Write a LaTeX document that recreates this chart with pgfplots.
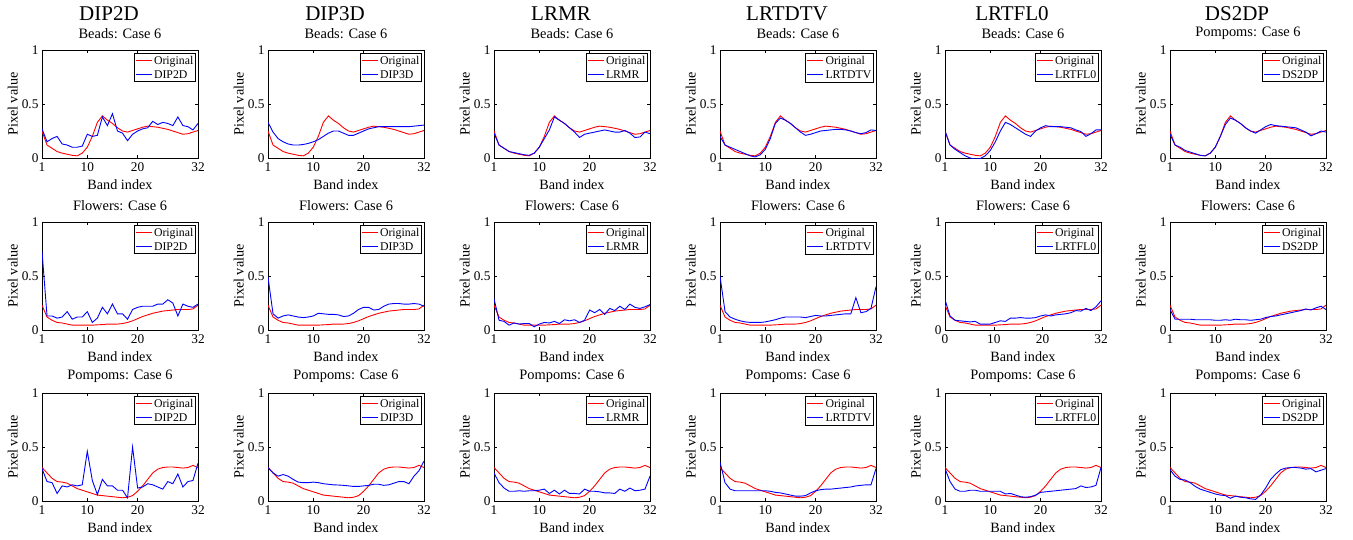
\documentclass[border=0pt]{standalone}
\usepackage{fontspec}
\setmainfont{Liberation Serif}
\usepackage{pgfplots}
\usepackage{pgfplotstable}
\pgfplotsset{compat=1.18}

\pgfplotstableread{
x orig dip2d dip3d lrmr lrtdtv lrtfl0 ds2dp
1 0.25 0.27 0.33 0.23 0.20 0.25 0.22
2 0.12 0.15 0.24 0.12 0.12 0.12 0.12
3 0.09 0.18 0.18 0.09 0.10 0.08 0.10
4 0.06 0.20 0.15 0.06 0.08 0.05 0.07
5 0.045 0.13 0.13 0.05 0.06 0.02 0.055
6 0.035 0.12 0.12 0.04 0.04 0.0 0.04
7 0.025 0.10 0.12 0.03 0.02 -0.01 0.025
8 0.02 0.10 0.125 0.025 0.01 -0.005 0.02
9 0.045 0.11 0.135 0.045 0.03 0.02 0.045
10 0.10 0.22 0.15 0.10 0.08 0.07 0.10
11 0.20 0.20 0.17 0.18 0.18 0.15 0.20
12 0.33 0.21 0.20 0.26 0.32 0.25 0.31
13 0.39 0.38 0.23 0.38 0.37 0.33 0.37
14 0.35 0.30 0.25 0.35 0.35 0.31 0.35
15 0.32 0.41 0.25 0.32 0.32 0.28 0.32
16 0.28 0.25 0.23 0.28 0.28 0.25 0.28
17 0.25 0.23 0.21 0.24 0.24 0.22 0.25
18 0.24 0.16 0.21 0.19 0.21 0.20 0.23
19 0.255 0.22 0.23 0.22 0.22 0.25 0.26
20 0.27 0.25 0.25 0.23 0.235 0.28 0.29
21 0.285 0.27 0.27 0.24 0.25 0.30 0.31
22 0.295 0.28 0.28 0.25 0.255 0.29 0.30
23 0.29 0.34 0.29 0.26 0.26 0.29 0.295
24 0.285 0.31 0.29 0.25 0.265 0.29 0.29
25 0.275 0.33 0.29 0.24 0.265 0.285 0.285
26 0.265 0.32 0.29 0.24 0.26 0.28 0.28
27 0.25 0.30 0.29 0.255 0.25 0.26 0.26
28 0.235 0.38 0.29 0.23 0.235 0.245 0.24
29 0.22 0.30 0.29 0.19 0.225 0.20 0.205
30 0.225 0.29 0.295 0.195 0.235 0.225 0.225
31 0.24 0.26 0.30 0.24 0.26 0.26 0.25
32 0.255 0.32 0.305 0.225 0.255 0.26 0.24
}\beads

\pgfplotstableread{
x xz orig dip2d dip3d lrmr lrtdtv lrtfl0 ds2dp
1 0 0.23 0.73 0.49 0.29 0.50 0.28 0.19
2 1.032 0.12 0.13 0.15 0.09 0.17 0.13 0.10
3 2.065 0.09 0.13 0.11 0.08 0.12 0.09 0.10
4 3.097 0.07 0.11 0.13 0.045 0.10 0.085 0.10
5 4.129 0.065 0.12 0.14 0.065 0.085 0.08 0.10
6 5.161 0.055 0.17 0.13 0.055 0.075 0.075 0.095
7 6.194 0.045 0.10 0.12 0.06 0.07 0.08 0.095
8 7.226 0.045 0.12 0.115 0.06 0.07 0.055 0.095
9 8.258 0.045 0.12 0.12 0.03 0.07 0.055 0.095
10 9.290 0.045 0.17 0.13 0.055 0.075 0.055 0.09
11 10.323 0.045 0.07 0.155 0.07 0.085 0.07 0.09
12 11.355 0.048 0.11 0.15 0.065 0.095 0.085 0.095
13 12.387 0.05 0.21 0.145 0.08 0.11 0.08 0.09
14 13.419 0.055 0.15 0.145 0.06 0.12 0.11 0.10
15 14.452 0.055 0.24 0.14 0.095 0.12 0.11 0.095
16 15.484 0.055 0.15 0.125 0.085 0.12 0.115 0.095
17 16.516 0.06 0.15 0.13 0.095 0.12 0.11 0.09
18 17.548 0.07 0.10 0.155 0.07 0.115 0.11 0.095
19 18.581 0.085 0.19 0.19 0.09 0.125 0.115 0.10
20 19.613 0.105 0.21 0.21 0.185 0.135 0.13 0.115
21 20.645 0.125 0.22 0.21 0.16 0.13 0.14 0.125
22 21.677 0.14 0.22 0.185 0.19 0.13 0.13 0.13
23 22.710 0.155 0.22 0.19 0.145 0.135 0.14 0.14
24 23.742 0.165 0.24 0.22 0.20 0.14 0.145 0.15
25 24.774 0.175 0.24 0.24 0.18 0.145 0.15 0.16
26 25.806 0.18 0.28 0.245 0.22 0.15 0.16 0.17
27 26.839 0.185 0.25 0.245 0.19 0.15 0.18 0.18
28 27.871 0.19 0.13 0.24 0.24 0.30 0.175 0.195
29 28.903 0.19 0.24 0.24 0.21 0.16 0.20 0.185
30 29.935 0.19 0.22 0.245 0.20 0.17 0.18 0.205
31 30.968 0.195 0.21 0.24 0.215 0.20 0.215 0.22
32 32 0.23 0.24 0.22 0.235 0.40 0.27 0.19
}\flowers

\pgfplotstableread{
x orig dip2d dip3d lrmr lrtdtv lrtfl0 ds2dp
1 0.31 0.30 0.31 0.26 0.36 0.30 0.29
2 0.26 0.18 0.26 0.17 0.17 0.18 0.23
3 0.21 0.17 0.23 0.12 0.11 0.11 0.20
4 0.18 0.07 0.245 0.09 0.095 0.09 0.195
5 0.175 0.14 0.23 0.09 0.095 0.09 0.17
6 0.165 0.13 0.20 0.095 0.095 0.10 0.135
7 0.14 0.15 0.175 0.09 0.095 0.10 0.11
8 0.115 0.14 0.17 0.095 0.095 0.09 0.095
9 0.10 0.15 0.17 0.095 0.095 0.09 0.08
10 0.085 0.46 0.175 0.10 0.095 0.09 0.065
11 0.07 0.19 0.17 0.11 0.09 0.09 0.055
12 0.055 0.06 0.16 0.07 0.08 0.09 0.05
13 0.05 0.20 0.155 0.10 0.075 0.065 0.025
14 0.045 0.14 0.15 0.065 0.065 0.07 0.045
15 0.04 0.14 0.148 0.10 0.055 0.055 0.035
16 0.035 0.10 0.145 0.07 0.045 0.04 0.03
17 0.03 0.10 0.14 0.07 0.045 0.035 0.02
18 0.035 0.03 0.135 0.065 0.05 0.04 0.015
19 0.05 0.50 0.135 0.11 0.075 0.055 0.055
20 0.09 0.12 0.14 0.09 0.095 0.08 0.12
21 0.14 0.13 0.145 0.09 0.105 0.085 0.20
22 0.20 0.16 0.155 0.085 0.11 0.09 0.25
23 0.26 0.15 0.155 0.075 0.11 0.095 0.29
24 0.295 0.13 0.145 0.075 0.115 0.10 0.305
25 0.31 0.11 0.15 0.07 0.12 0.105 0.31
26 0.315 0.18 0.165 0.11 0.125 0.11 0.31
27 0.315 0.16 0.18 0.09 0.13 0.115 0.305
28 0.31 0.25 0.18 0.12 0.14 0.14 0.295
29 0.305 0.13 0.16 0.095 0.145 0.125 0.30
30 0.31 0.18 0.23 0.10 0.15 0.13 0.27
31 0.33 0.19 0.28 0.11 0.15 0.145 0.285
32 0.31 0.35 0.37 0.23 0.30 0.31 0.30
}\pompoms

\pgfplotsset{
  pstyle/.style={
    scale only axis, width=156pt, height=108pt,
    xmin=1, xmax=32, ymin=0, ymax=1,
    xtick={1,10,20,32}, ytick={0,0.5,1},
    tick align=inside, xtick pos=both, ytick pos=both,
    major tick length=3pt,
    axis line style={line width=0.6pt},
    every tick/.style={line width=0.5pt},
    /pgf/number format/assume math mode=true,
    yticklabel style={/pgf/number format/fixed},
    tick label style={font=\fontsize{13.3}{14}\selectfont},
    xticklabel style={yshift=-1.5pt},
    label style={font=\fontsize{14.2}{15}\selectfont},
    xlabel={Band index}, ylabel={Pixel value},
    xlabel style={at={(axis description cs:0.5,-0.25)}, anchor=center},
    ylabel style={at={(axis description cs:-0.187,0.5)}, anchor=center},
    title style={at={(axis description cs:0.5,1.097)}, anchor=center, font=\fontsize{14.4}{15}\selectfont},
  }
}

\newcommand{\panel}[8]{%
  \begin{axis}[pstyle, at={(#1pt,-#2pt)}, anchor=north west, title={#6}, #8]
    \addplot[red, line width=0.9pt] table[x=#4, y=orig] {#3};
    \addplot[blue, line width=0.9pt] table[x=#4, y=#5] {#3};
    % legend box (Original / method)
    \node[anchor=north east, align=left, fill=white, inner xsep=1.5pt, inner ysep=3pt,
          font=\fontsize{11.8}{14}\selectfont] (L) at (axis description cs:0.981,0.972) {Original\\#7};
    \fill[white] ([xshift=-18.5pt]L.south west) rectangle (L.north west);
    \draw[line width=0.5pt] ([xshift=-18.5pt]L.south west) rectangle (L.north east);
    \draw[red, line width=0.9pt] ([xshift=-16.5pt,yshift=-7.6pt]L.north west) -- ([xshift=-0.5pt,yshift=-7.6pt]L.north west);
    \draw[blue, line width=0.9pt] ([xshift=-16.5pt,yshift=-21.6pt]L.north west) -- ([xshift=-0.5pt,yshift=-21.6pt]L.north west);
  \end{axis}}

\begin{document}
\begin{tikzpicture}
\path[fill=white] (0pt,0pt) rectangle (1353pt,-539pt);
\useasboundingbox (0pt,0pt) rectangle (1353pt,-539pt);

\foreach \cx/\nm in {109/DIP2D, 335/DIP3D, 561/LRMR, 787/LRTDTV, 1012/LRTFL0, 1237/DS2DP}{
  \node[font=\fontsize{21}{24}\selectfont, anchor=center] at (\cx pt,-13.5pt) {\nm};
}

\panel{42}{50}{\beads}{x}{dip2d}{Beads: Case 6}{DIP2D}{}
\panel{268}{50}{\beads}{x}{dip3d}{Beads: Case 6}{DIP3D}{}
\panel{494}{50}{\beads}{x}{lrmr}{Beads: Case 6}{LRMR}{}
\panel{720}{50}{\beads}{x}{lrtdtv}{Beads: Case 6}{LRTDTV}{}
\panel{945}{50}{\beads}{x}{lrtfl0}{Beads: Case 6}{LRTFL0}{}
\panel{1170}{50}{\beads}{x}{ds2dp}{Pompoms: Case 6}{DS2DP}{}

\panel{42}{222}{\flowers}{x}{dip2d}{Flowers: Case 6}{DIP2D}{}
\panel{268}{222}{\flowers}{x}{dip3d}{Flowers: Case 6}{DIP3D}{}
\panel{494}{222}{\flowers}{x}{lrmr}{Flowers: Case 6}{LRMR}{}
\panel{720}{222}{\flowers}{x}{lrtdtv}{Flowers: Case 6}{LRTDTV}{}
\panel{945}{222}{\flowers}{xz}{lrtfl0}{Flowers: Case 6}{LRTFL0}{xmin=0, xtick={0,10,20,32}}
\panel{1170}{222}{\flowers}{x}{ds2dp}{Flowers: Case 6}{DS2DP}{}

\panel{42}{393}{\pompoms}{x}{dip2d}{Pompoms: Case 6}{DIP2D}{}
\panel{268}{393}{\pompoms}{x}{dip3d}{Pompoms: Case 6}{DIP3D}{}
\panel{494}{393}{\pompoms}{x}{lrmr}{Pompoms: Case 6}{LRMR}{}
\panel{720}{393}{\pompoms}{x}{lrtdtv}{Pompoms: Case 6}{LRTDTV}{}
\panel{945}{393}{\pompoms}{x}{lrtfl0}{Pompoms: Case 6}{LRTFL0}{}
\panel{1170}{393}{\pompoms}{x}{ds2dp}{Pompoms: Case 6}{DS2DP}{}
\end{tikzpicture}
\end{document}
